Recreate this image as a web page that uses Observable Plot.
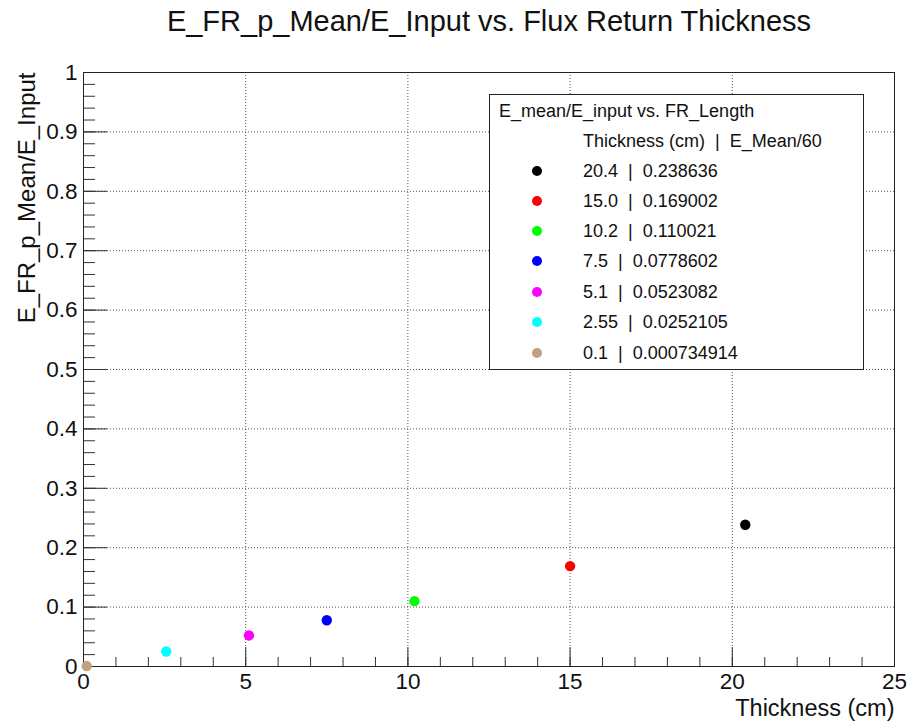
<!DOCTYPE html>
<html>
<head>
<meta charset="utf-8">
<script src="https://cdn.jsdelivr.net/npm/d3@7"></script>
<script src="https://cdn.jsdelivr.net/npm/@observablehq/plot@0.6"></script>
<style>
  html, body { margin: 0; padding: 0; background: white; }
  #wrap { position: relative; width: 910px; height: 725px; font-family: "Liberation Sans", Arial, sans-serif; }
  #legend { position: absolute; left: 489px; top: 94px; width: 373px; height: 274px; border: 1px solid #222; background: white; box-sizing: content-box; color: #111; }
  #legend .ttl { position: absolute; left: 9px; top: 6px; height: 20px; line-height: 20px; font-size: 18px; white-space: nowrap; }
  #legend .row { position: absolute; left: 0; height: 20px; line-height: 20px; font-size: 18px; white-space: pre; }
  #legend .mk { position: absolute; left: 42px; top: 5px; width: 10px; height: 10px; border-radius: 50%; }
  #legend .tx { position: absolute; left: 93px; top: 0; }
</style>
</head>
<body>
<div id="wrap"></div>
<script>
const titleText = "E_FR_p_Mean/E_Input vs. Flux Return Thickness";
const xLabel = "Thickness (cm)";
const yLabel = "E_FR_p_Mean/E_Input";
const legendTitle = "E_mean/E_input vs. FR_Length";
const legendHeader = "Thickness (cm)  |  E_Mean/60";

const thickness = [20.4, 15.0, 10.2, 7.5, 5.1, 2.55, 0.1];
const thicknessLabels = ["20.4", "15.0", "10.2", "7.5", "5.1", "2.55", "0.1"];
const ratio = [0.238636, 0.169002, 0.110021, 0.0778602, 0.0523082, 0.0252105, 0.000734914];
const ratioLabels = ["0.238636", "0.169002", "0.110021", "0.0778602", "0.0523082", "0.0252105", "0.000734914"];
const colors = ["#000000", "#ff0000", "#00ff00", "#0000ff", "#ff00ff", "#00ffff", "#c0a07e"];

const xMajor = [0, 5, 10, 15, 20, 25];
const xMinor = d3.range(0, 26, 1);
const yMajor = [0, 0.1, 0.2, 0.3, 0.4, 0.5, 0.6, 0.7, 0.8, 0.9, 1];
const yMinor = d3.range(0, 51).map(i => i * 0.02);
const xGrid = [5, 10, 15, 20];
const yGrid = [0.1, 0.2, 0.3, 0.4, 0.5, 0.6, 0.7, 0.8, 0.9];

const data = thickness.map((t, i) => ({x: t, y: ratio[i], c: colors[i]}));

const fmtY = d => d === 0 ? "0" : d === 1 ? "1" : d3.format(".1f")(d);

const chart = Plot.plot({
  width: 910, height: 725,
  marginLeft: 83, marginRight: 16, marginTop: 72, marginBottom: 59,
  x: {domain: [0, 25]},
  y: {domain: [0, 1]},
  style: {fontFamily: "'Liberation Sans', Arial, sans-serif", background: "white", color: "#111"},
  marks: [
    Plot.gridX(xGrid, {stroke: "#555", strokeOpacity: 1, strokeDasharray: "1,2", strokeWidth: 1}),
    Plot.gridY(yGrid, {stroke: "#555", strokeOpacity: 1, strokeDasharray: "1,2", strokeWidth: 1}),
    Plot.axisX({ticks: xMinor, tickSize: -9, tickFormat: () => "", label: null, stroke: "#333"}),
    Plot.axisX({ticks: xMajor, tickSize: -19, tickFormat: () => "", label: null, stroke: "#333"}),
    Plot.axisX({ticks: xMajor, tickSize: 0, tickPadding: 7, fontSize: 22.5, label: null, fill: "#111"}),
    Plot.axisY({ticks: yMinor, tickSize: -12, tickFormat: () => "", label: null, stroke: "#333"}),
    Plot.axisY({ticks: yMajor, tickSize: 0, tickPadding: 6, fontSize: 22.5, tickFormat: fmtY, label: null, fill: "#111"}),
    Plot.axisY({ticks: yMajor, tickSize: -24, tickFormat: () => "", label: null, stroke: "#333"}),
    Plot.frame({stroke: "#222"}),
    Plot.dot(data, {x: "x", y: "y", fill: "c", r: 5.2, stroke: null}),
    Plot.text([titleText], {frameAnchor: "top", lineAnchor: "middle", dy: -51, fontSize: 29, fill: "#111"}),
    Plot.text([xLabel], {frameAnchor: "bottom-right", textAnchor: "end", lineAnchor: "middle", dy: 42, fontSize: 23.5, fill: "#111"}),
    Plot.text([yLabel], {frameAnchor: "top-left", textAnchor: "end", lineAnchor: "middle", rotate: -90, dx: -56, fontSize: 24, fill: "#111"})
  ]
});

const wrap = document.getElementById("wrap");
wrap.appendChild(chart);

const legend = document.createElement("div");
legend.id = "legend";
const lt = document.createElement("div");
lt.className = "ttl";
lt.textContent = legendTitle;
legend.appendChild(lt);
const rowTops = [36, 66, 96, 126, 156, 187, 217, 248];
const hdr = document.createElement("div");
hdr.className = "row";
hdr.style.top = rowTops[0] + "px";
hdr.innerHTML = `<span class="tx"></span>`;
hdr.querySelector(".tx").textContent = legendHeader;
legend.appendChild(hdr);
thicknessLabels.forEach((t, i) => {
  const r = document.createElement("div");
  r.className = "row";
  r.style.top = rowTops[i + 1] + "px";
  const m = document.createElement("span");
  m.className = "mk";
  m.style.background = colors[i];
  const tx = document.createElement("span");
  tx.className = "tx";
  tx.textContent = `${t}  |  ${ratioLabels[i]}`;
  r.appendChild(m); r.appendChild(tx);
  legend.appendChild(r);
});
wrap.appendChild(legend);
</script>
</body>
</html>
